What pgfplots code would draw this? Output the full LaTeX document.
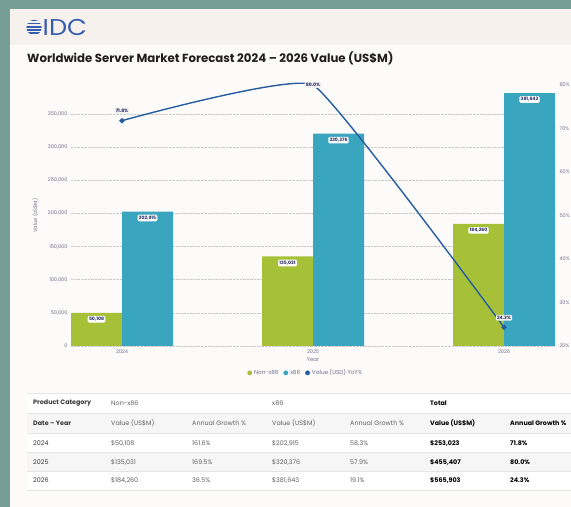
\documentclass[border=0pt]{standalone}
\usepackage{fontspec}
\setmainfont{Poppins}
\usepackage{pgfplots}
\pgfplotsset{compat=1.18}
\definecolor{bgteal}{RGB}{118,158,150}
\definecolor{headbg}{RGB}{246,241,236}
\definecolor{cardbg}{RGB}{253,251,249}
\definecolor{nongreen}{RGB}{166,193,56}
\definecolor{xblue}{RGB}{58,165,190}
\definecolor{linecol}{RGB}{38,92,160}
\definecolor{labnavy}{RGB}{40,45,100}
\definecolor{tickgray}{RGB}{110,110,140}
\definecolor{idcblue}{RGB}{55,95,175}
\definecolor{tabgray}{RGB}{95,95,95}
\definecolor{tabdark}{RGB}{55,55,55}
\definecolor{rowgray}{RGB}{246,246,246}

% table cell: x, y, text
\newcommand\tc[3]{\node[anchor=west,inner sep=0pt,font=\fontsize{6.4}{7}\selectfont,text=tabgray] at (#1,#2) {#3};}
\newcommand\tb[3]{\node[anchor=west,inner sep=0pt,font=\fontsize{6.4}{7}\selectfont\bfseries,text=black] at (#1,#2) {#3};}
\newcommand\thd[3]{\node[anchor=west,inner sep=0pt,font=\fontsize{6.4}{7}\selectfont\bfseries,text=tabdark] at (#1,#2) {#3};}

\begin{document}
\begin{tikzpicture}[x=1bp,y=1bp]
\path[use as bounding box,clip] (0,0) rectangle (571,507);
% frame and card
\fill[bgteal] (0,0) rectangle (571,507);
\fill[cardbg] (10,0) rectangle (571,498);
\fill[headbg] (10,462) rectangle (571,498);
\fill[white] (27,17) rectangle (571,114);
\fill[rowgray] (27,74) rectangle (571,94);
\fill[rowgray] (27,36) rectangle (571,54.5);

% IDC logo
\begin{scope}
  \clip (34,479.5) circle (7.6);
  \foreach \i in {0,...,4}
    \fill[idcblue] (25,487.5-3.1*\i) rectangle (44,485.6-3.1*\i);
\end{scope}
\node[anchor=west,inner sep=0pt,text=idcblue,font=\fontsize{23}{24}\selectfont,xscale=1.12] at (42.5,480) {IDC};

% title
\node[anchor=west,inner sep=0pt,font=\fontsize{11.8}{13}\selectfont\bfseries,text=black!88] at (27,449) {Worldwide Server Market Forecast 2024 -- 2026 Value (US\$M)};

% bars
\begin{axis}[
  at={(71bp,161bp)}, anchor=south west,
  scale only axis, width=484bp, height=261bp,
  xmin=-0.267, xmax=2.267, ymin=0, ymax=393800,
  xtick={0,1,2}, xticklabels={2024,2025,2026},
  ytick={0,50000,100000,150000,200000,250000,300000,350000},
  scaled y ticks=false,
  yticklabel style={/pgf/number format/fixed,/pgf/number format/precision=0,/pgf/number format/1000 sep={,}},
  /pgf/number format/assume math mode=true,
  axis line style={draw=none},
  tick style={draw=none},
  ymajorgrids,
  grid style={densely dotted,black!22,line width=0.5bp},
  tick label style={font=\fontsize{5}{6}\selectfont,text=tickgray},
  xlabel={Year},
  xlabel style={font=\fontsize{5.4}{6}\selectfont,text=tickgray,yshift=2.5bp},
  ylabel={Value (US\$M)},
  ylabel style={font=\fontsize{5}{6}\selectfont,text=tickgray,at={(axis description cs:-0.074,0.5)},anchor=center},
  legend style={at={(0.485,-0.103)},anchor=center,draw=none,fill=none,
    font=\fontsize{5.7}{6.5}\selectfont,text=tickgray,
    /tikz/every even column/.append style={column sep=3bp}},
  legend columns=3,
  clip=false,
  nodes near coords style={anchor=north,yshift=-3bp,fill=white,rounded corners=1.2bp,
    inner sep=1.3bp,font=\fontsize{4.6}{5}\selectfont\bfseries,text=labnavy},
]
\addplot[ybar,bar width=51bp,bar shift=-25.5bp,fill=nongreen,draw=none,forget plot,
  nodes near coords={\pgfmathprintnumber[fixed,precision=0,1000 sep={,}]{\pgfplotspointmeta}},
  every node near coord/.append style={xshift=-25.5bp}]
  coordinates {(0,50108) (1,135031) (2,184260)};
\addplot[ybar,bar width=51bp,bar shift=25.5bp,fill=xblue,draw=none,forget plot,
  nodes near coords={\pgfmathprintnumber[fixed,precision=0,1000 sep={,}]{\pgfplotspointmeta}},
  every node near coord/.append style={xshift=25.5bp}]
  coordinates {(0,202915) (1,320376) (2,381643)};
\addlegendimage{legend image code/.code={\fill[nongreen] (2bp,0bp) circle (2.2bp);}}
\addlegendentry{Non-x86}
\addlegendimage{legend image code/.code={\fill[xblue] (2bp,0bp) circle (2.2bp);}}
\addlegendentry{x86}
\addlegendimage{legend image code/.code={\fill[linecol] (2bp,0bp) circle (2.2bp);}}
\addlegendentry{Value (USD) YoY\%}
\end{axis}

% growth line
\begin{axis}[
  at={(71bp,161bp)}, anchor=south west,
  scale only axis, width=484bp, height=261bp,
  xmin=-0.267, xmax=2.267, ymin=20, ymax=80,
  hide x axis,
  axis y line*=right,
  axis line style={draw=none},
  tick style={draw=none},
  ytick={20,30,40,50,60,70,80},
  yticklabel={\pgfmathprintnumber{\tick}\%},
  /pgf/number format/assume math mode=true,
  tick label style={font=\fontsize{5}{6}\selectfont,text=tickgray},
  yticklabel style={xshift=1bp},
  clip=false,
  nodes near coords style={anchor=center,fill=white!88!gray,rounded corners=1.2bp,
    inner sep=1.2bp,font=\fontsize{4.6}{5}\selectfont\bfseries,text=labnavy},
]
\addplot[linecol,line width=1.4bp,smooth,tension=0.2,mark=*,mark size=1.9bp,
  mark options={fill=linecol,draw=linecol}]
  coordinates {(0,71.8) (1,80.0) (2,24.3)};
% value labels of the line
\addplot[draw=none,mark=none,
  nodes near coords={\pgfmathprintnumber[fixed,precision=1,fixed zerofill]{\pgfplotspointmeta}\%},
  every node near coord/.append style={yshift=9.5bp}]
  coordinates {(0,71.8) (2,24.3)};
\addplot[draw=none,mark=none,
  nodes near coords={\pgfmathprintnumber[fixed,precision=1,fixed zerofill]{\pgfplotspointmeta}\%}]
  coordinates {(1,80.0)};
\end{axis}

% table
\foreach \yy in {114,94,74,54.5,36,17}
  \draw[black!10,line width=0.5bp] (27,\yy) -- (571,\yy);
\thd{33}{104}{Product Category}
\tc{111}{104}{Non-x86}
\tc{272}{104}{x86}
\tb{430}{104}{Total}
\thd{33}{84}{Date -- Year}
\tc{111}{84}{Value (US\$M)}
\tc{192}{84}{Annual Growth \%}
\tc{272}{84}{Value (US\$M)}
\tc{350}{84}{Annual Growth \%}
\tb{430}{84}{Value (US\$M)}
\tb{510}{84}{Annual Growth \%}
\tc{33}{64}{\color{tabdark}2024}
\tc{111}{64}{\$50,108}
\tc{192}{64}{161.6\%}
\tc{272}{64}{\$202,915}
\tc{350}{64}{58.3\%}
\tb{430}{64}{\$253,023}
\tb{510}{64}{71.8\%}
\tc{33}{45}{\color{tabdark}2025}
\tc{111}{45}{\$135,031}
\tc{192}{45}{169.5\%}
\tc{272}{45}{\$320,376}
\tc{350}{45}{57.9\%}
\tb{430}{45}{\$455,407}
\tb{510}{45}{80.0\%}
\tc{33}{26.5}{\color{tabdark}2026}
\tc{111}{26.5}{\$184,260}
\tc{192}{26.5}{36.5\%}
\tc{272}{26.5}{\$381,643}
\tc{350}{26.5}{19.1\%}
\tb{430}{26.5}{\$565,903}
\tb{510}{26.5}{24.3\%}
\end{tikzpicture}
\end{document}
